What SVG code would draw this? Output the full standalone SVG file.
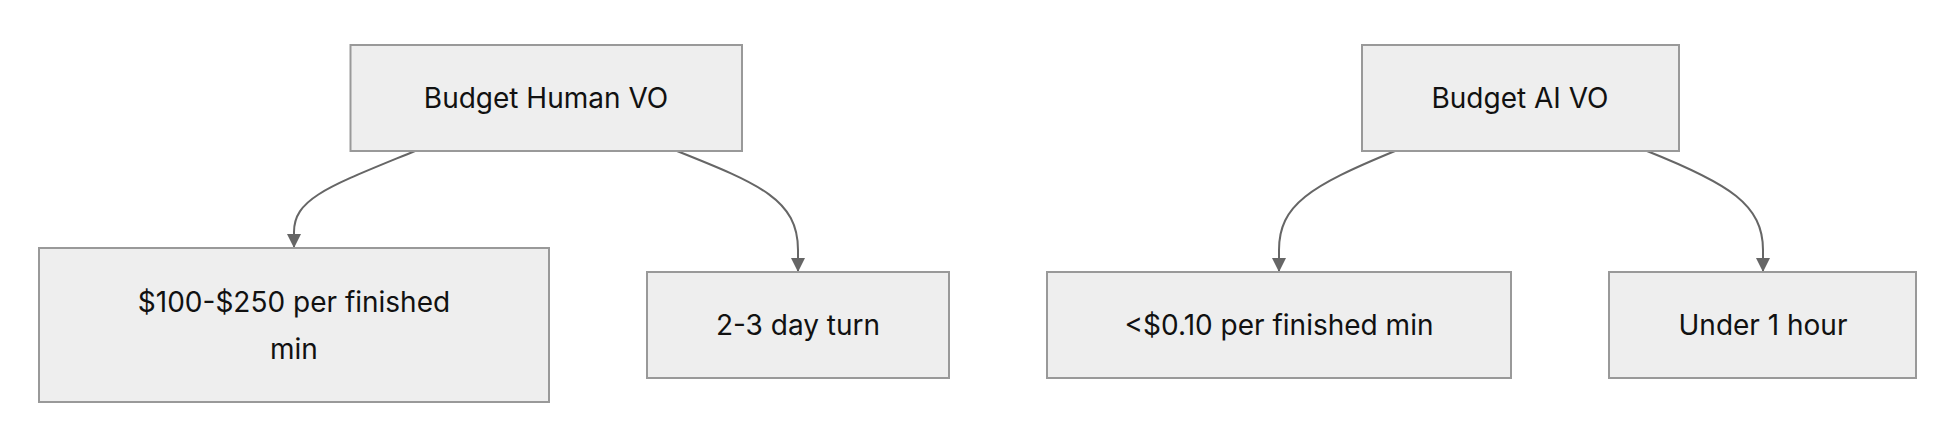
<svg xmlns="http://www.w3.org/2000/svg" width="1946" height="444" viewBox="0 0 1946 444">
<style>
.n rect{fill:#eeeeee;stroke:#999999;stroke-width:2}
.n text{font-family:Inter,"Liberation Sans",sans-serif;font-size:28px;fill:#111;text-anchor:middle;dominant-baseline:central}
.e path{fill:none;stroke:#666;stroke-width:2;marker-end:url(#a)}
</style>
<defs><marker id="a" viewBox="0 0 10 10" refX="9" refY="5" markerWidth="7" markerHeight="7" markerUnits="userSpaceOnUse" orient="auto"><path d="M0,0 L10,5 L0,10z" fill="#666"/></marker></defs>
<defs><marker id="b" viewBox="0 0 12 12" refX="12" refY="6" markerWidth="14" markerHeight="14" markerUnits="userSpaceOnUse" orient="auto"><path d="M0,0 L12,6 L0,12z" fill="#666"/></marker></defs>
<g class="e" id="connectors">
<path style="marker-end:url(#b)" d="M415,151 C330,186 294,198 294,232 L294,248"/>
<path style="marker-end:url(#b)" d="M677,151 C760,184 798,200 798,250 L798,272"/>
<path style="marker-end:url(#b)" d="M1395,151 C1310,186 1279,205 1279,250 L1279,272"/>
<path style="marker-end:url(#b)" d="M1647,151 C1730,184 1763,205 1763,250 L1763,272"/>
</g>
<g class="n" id="human"><rect x="350.5" y="45" width="391.5" height="106"/><text x="546" y="98">Budget Human VO</text></g>
<g class="n" id="human-cost"><rect x="39" y="248" width="510" height="154"/><text x="294" y="302">$100-$250 per finished</text><text x="294" y="349">min</text></g>
<g class="n" id="human-time"><rect x="647" y="272" width="302" height="106"/><text x="798" y="325">2-3 day turn</text></g>
<g class="n" id="ai"><rect x="1362" y="45" width="317" height="106"/><text x="1520" y="98">Budget AI VO</text></g>
<g class="n" id="ai-cost"><rect x="1047" y="272" width="464" height="106"/><text x="1279" y="325">&lt;$0.10 per finished min</text></g>
<g class="n" id="ai-time"><rect x="1609" y="272" width="307" height="106"/><text x="1763" y="325">Under 1 hour</text></g>
</svg>
